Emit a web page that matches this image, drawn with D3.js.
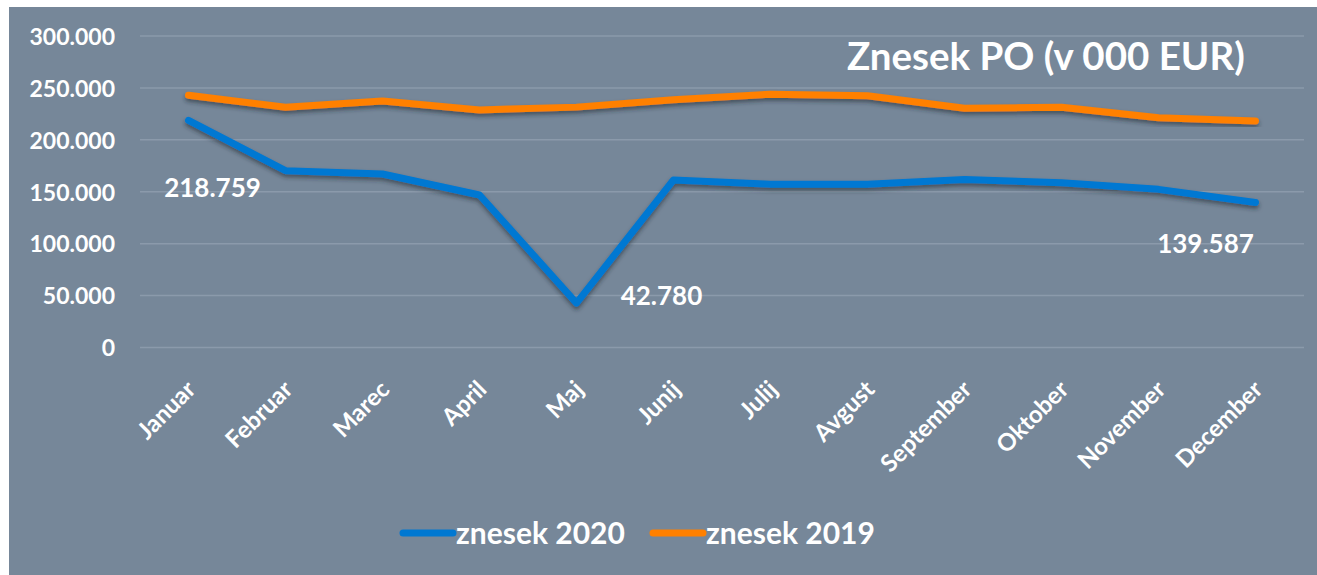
<!DOCTYPE html>
<html>
<head>
<meta charset="utf-8">
<script src="https://cdn.jsdelivr.net/npm/d3@7"></script>
<style>
  body { margin: 0; background: #fff; }
  text { font-family: Lato, "Open Sans", sans-serif; font-weight: bold; fill: #fff; }
</style>
</head>
<body>
<script>
// podatki
var months = ['Januar', 'Februar', 'Marec', 'April', 'Maj', 'Junij', 'Julij', 'Avgust', 'September', 'Oktober', 'November', 'December'];
var znesek2020 = [218759, 170300, 167100, 146900, 42780, 161300, 157300, 157200, 161800, 158700, 152300, 139587];
var znesek2019 = [243000, 231400, 237400, 228800, 231500, 238500, 244000, 242500, 230400, 231300, 221300, 218200];
var yTicks = [0, 50000, 100000, 150000, 200000, 250000, 300000];
var seriesNames = ['znesek 2020', 'znesek 2019'];
var seriesColors = ['#0078d2', '#ff8000'];
// labels shown on blue line: month index, text offset
var labelIdx = [0, 4, 11];
var labelOff = [[24, 77], [85, 2], [-50, 50]];

var W = 1317, H = 575;

var svg = d3.select('body').append('svg')
            .attr('width', W)
            .attr('height', H);

var defs = svg.append('defs');
var f = defs.append('filter').attr('id', 'shadow')
            .attr('x', '-5%').attr('y', '-20%').attr('width', '110%').attr('height', '140%');
f.append('feDropShadow')
 .attr('dx', 0).attr('dy', 3).attr('stdDeviation', 2)
 .attr('flood-color', '#1c2630').attr('flood-opacity', 0.55);

svg.append('rect')
   .attr('x', 9).attr('y', 7)
   .attr('width', W - 9).attr('height', H - 7)
   .style('fill', '#768799');

var x = d3.scalePoint().domain(months).range([140, 1304]).padding(0.5);
var y = d3.scaleLinear().domain([0, 300000]).range([347.5, 36]);

var fmt = function (v) {
  return d3.format(',')(v).replace(/,/g, '.');
};

// mreža
svg.append('g').selectAll('line')
   .data(yTicks).enter().append('line')
   .attr('x1', 140).attr('x2', 1304)
   .attr('y1', function (d) { return y(d); })
   .attr('y2', function (d) { return y(d); })
   .style('stroke', '#8b9aab')
   .style('stroke-width', 1.5);

// y os
var yAxis = d3.axisLeft(y).tickValues(yTicks).tickFormat(fmt).tickSize(0).tickPadding(0);
var gy = svg.append('g').attr('transform', 'translate(115,0)').call(yAxis);
gy.select('.domain').remove();
gy.selectAll('text')
  .attr('dy', '0.36em')
  .style('font-size', '23px')
  .style('fill', '#fff')
  .style('font-family', 'Lato, sans-serif');

// x os
var xAxis = d3.axisBottom(x).tickSize(0).tickPadding(0);
var gx = svg.append('g').attr('transform', 'translate(0,391)').call(xAxis);
gx.select('.domain').remove();
gx.selectAll('text')
  .attr('y', 0).attr('dy', 0)
  .attr('text-anchor', 'end')
  .attr('transform', 'translate(8,0) rotate(-45)')
  .style('font-size', '24px')
  .style('fill', '#fff')
  .style('font-family', 'Lato, sans-serif');

// črte
var line = d3.line()
             .x(function (d, i) { return x(months[i]); })
             .y(function (d) { return y(d); });

[znesek2020, znesek2019].forEach(function (s, k) {
  svg.append('path')
     .datum(s)
     .attr('d', line)
     .attr('filter', 'url(#shadow)')
     .style('fill', 'none')
     .style('stroke', seriesColors[k])
     .style('stroke-width', 7)
     .style('stroke-linejoin', 'round')
     .style('stroke-linecap', 'round');
});

// oznake
labelIdx.forEach(function (i, k) {
  svg.append('text')
     .attr('x', x(months[i]) + labelOff[k][0])
     .attr('y', y(znesek2020[i]) + labelOff[k][1])
     .attr('text-anchor', 'middle')
     .style('font-size', '26px')
     .text(fmt(znesek2020[i]));
});

// naslov
svg.append('text')
   .attr('x', 847).attr('y', 70)
   .style('font-size', '38.5px')
   .text('Znesek PO (v 000 EUR)');

// legenda
var legX = [403, 653];
seriesNames.forEach(function (n, k) {
  svg.append('line')
     .attr('x1', legX[k]).attr('x2', legX[k] + 50)
     .attr('y1', 533).attr('y2', 533)
     .style('stroke', seriesColors[k])
     .style('stroke-width', 7)
     .style('stroke-linecap', 'round');
  svg.append('text')
     .attr('x', legX[k] + 53).attr('y', 544)
     .style('font-size', '30px')
     .text(n);
});
</script>
</body>
</html>
